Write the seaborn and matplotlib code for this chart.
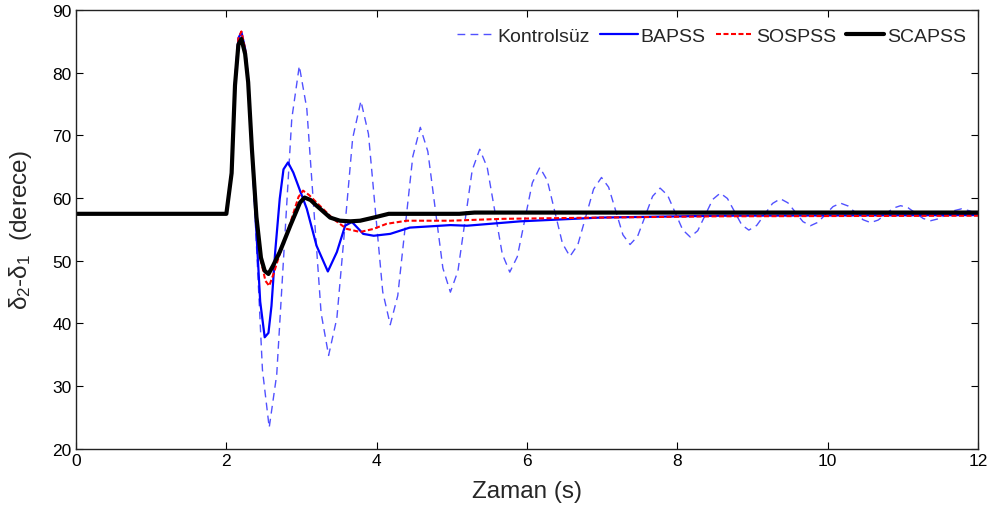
import numpy as np
import pandas as pd
import matplotlib
matplotlib.use("Agg")
import matplotlib.pyplot as plt
import seaborn as sns

# ---------------- data ----------------
t_kontrol = [0, 2.0, 2.07, 2.115, 2.16, 2.20, 2.25, 2.29, 2.34, 2.39, 2.48, 2.57,
             2.67, 2.77, 2.87, 2.97,
             3.07, 3.165, 3.26, 3.36,
             3.47, 3.575, 3.68, 3.79,
             3.89, 3.985, 4.08, 4.18,
             4.28, 4.38, 4.48, 4.58,
             4.68, 4.78, 4.88, 4.98,
             5.08, 5.175, 5.27, 5.37,
             5.47, 5.57, 5.67, 5.77,
             5.87, 5.97, 6.07, 6.17,
             6.27, 6.37, 6.47, 6.57,
             6.675, 6.78, 6.885, 6.99,
             7.085, 7.18, 7.275, 7.37,
             7.47, 7.57, 7.67, 7.77,
             7.87, 7.97, 8.07, 8.17,
             8.27, 8.37, 8.47, 8.57,
             8.665, 8.76, 8.855, 8.95,
             9.055, 9.16, 9.265, 9.37,
             9.47, 9.57, 9.67, 9.77,
             9.87, 9.97, 10.07, 10.17,
             10.27, 10.37, 10.47, 10.57,
             10.67, 10.77, 10.87, 10.97,
             11.07, 11.17, 11.27, 11.37,
             11.47, 11.575, 11.68, 11.78,
             11.88, 12.0]
y_kontrol = [57.5, 57.5, 64.2, 78.5, 85.5, 86.5, 83.8, 78.8, 67.5, 55.0, 32.6, 23.4,
             31.85, 52.25, 72.65, 81.1,
             74.3, 58.0, 41.7, 34.9,
             40.85, 55.2, 69.55, 75.5,
             70.25, 57.65, 45.05, 39.8,
             44.45, 55.55, 66.65, 71.3,
             67.45, 58.15, 48.85, 45.0,
             48.35, 56.4, 64.45, 67.8,
             64.9, 58.0, 51.1, 48.2,
             50.65, 56.55, 62.45, 64.9,
             62.8, 57.8, 52.8, 50.7,
             52.55, 57.0, 61.45, 63.3,
             61.75, 57.95, 54.15, 52.6,
             53.9, 57.1, 60.3, 61.6,
             60.45, 57.7, 54.95, 53.8,
             54.8, 57.3, 59.8, 60.8,
             59.95, 57.85, 55.75, 54.9,
             55.65, 57.4, 59.15, 59.9,
             59.25, 57.75, 56.25, 55.6,
             56.15, 57.4, 58.65, 59.2,
             58.75, 57.65, 56.55, 56.1,
             56.5, 57.45, 58.4, 58.8,
             58.45, 57.6, 56.75, 56.4,
             56.7, 57.35, 58.0, 58.3,
             58.0, 57.4]

t_bapss = [0, 2.0, 2.07, 2.115, 2.16, 2.20, 2.25, 2.29, 2.34, 2.40, 2.45, 2.51, 2.56,
           2.60, 2.65, 2.71, 2.76, 2.82, 2.89, 3.07, 3.20, 3.35, 3.47, 3.58, 3.67,
           3.75, 3.82, 3.96, 4.18, 4.44, 4.98, 5.2, 5.91, 6.97, 8.57, 12.0]
y_bapss = [57.5, 57.5, 64.2, 78.5, 85.5, 86.5, 83.8, 78.8, 67.5, 54.5, 43.5, 37.8, 38.5,
           42.8, 51.5, 59.9, 64.6, 65.7, 64.1, 58.3, 52.4, 48.3, 51.4, 55.6, 56.2,
           55.2, 54.3, 54.0, 54.3, 55.3, 55.7, 55.6, 56.3, 56.9, 57.2, 57.3]

t_sospss = [0, 2.0, 2.07, 2.115, 2.16, 2.20, 2.25, 2.29, 2.34, 2.40, 2.46, 2.52, 2.57,
            2.63, 2.72, 2.85, 2.96, 3.02, 3.10, 3.20, 3.42, 3.60, 3.78, 3.96, 4.13,
            4.40, 4.98, 5.68, 6.97, 8.5, 12.0]
y_sospss = [57.5, 57.5, 64.2, 78.5, 85.5, 86.6, 83.8, 78.8, 68.0, 57.0, 50.0, 46.8, 46.0,
            48.0, 51.5, 56.0, 60.2, 61.2, 60.5, 59.3, 56.7, 55.1, 54.6, 55.1, 55.9,
            56.4, 56.4, 56.7, 56.9, 57.1, 57.2]

t_scapss = [0, 2.0, 2.07, 2.115, 2.16, 2.20, 2.25, 2.29, 2.34, 2.40, 2.46, 2.51, 2.56,
            2.62, 2.71, 2.85, 2.98, 3.04, 3.12, 3.20, 3.38, 3.51, 3.65, 3.78, 3.96,
            4.16, 5.1, 5.3, 12.0]
y_scapss = [57.5, 57.5, 64.0, 78.0, 84.5, 85.4, 83.0, 78.5, 67.8, 57.0, 50.5, 48.4, 47.9,
            49.2, 51.4, 55.6, 59.3, 60.1, 59.7, 58.8, 56.9, 56.4, 56.3, 56.4, 56.9,
            57.5, 57.5, 57.7, 57.7]

series_names = ["Kontrolsüz", "BAPSS", "SOSPSS", "SCAPSS"]
x_ticks = [0, 2, 4, 6, 8, 10, 12]
y_ticks = [20, 30, 40, 50, 60, 70, 80, 90]

# ---------------- styling ----------------
sns.set_style("ticks")
plt.rcParams["font.family"] = ["Liberation Sans", "DejaVu Sans"]
plt.rcParams["mathtext.fontset"] = "custom"
plt.rcParams["mathtext.rm"] = "Liberation Sans"
plt.rcParams["mathtext.it"] = "Liberation Sans:italic"

fig = plt.figure(figsize=(9.91, 5.06), dpi=100)
ax = fig.add_axes([0.0767, 0.111, 0.9103, 0.867])

frames = {
    "Kontrolsüz": pd.DataFrame({"t": t_kontrol, "v": y_kontrol}),
    "BAPSS": pd.DataFrame({"t": t_bapss, "v": y_bapss}),
    "SOSPSS": pd.DataFrame({"t": t_sospss, "v": y_sospss}),
    "SCAPSS": pd.DataFrame({"t": t_scapss, "v": y_scapss}),
}
styles = {
    "Kontrolsüz": dict(color=(0.2, 0.2, 1.0), alpha=0.85, lw=1.0, linestyle=(0, (5.6, 3.8))),
    "BAPSS": dict(color="#0000ff", lw=1.6, linestyle="-"),
    "SOSPSS": dict(color="#ff0000", lw=1.5, linestyle=(0, (2.4, 1.2))),
    "SCAPSS": dict(color="black", lw=3.0, linestyle="-"),
}
for name in series_names:
    sns.lineplot(data=frames[name], x="t", y="v", ax=ax, estimator=None, sort=False,
                 label=name, **styles[name])

ax.set_xlim(0, 12)
ax.set_ylim(20, 90)
ax.set_xticks(x_ticks)
ax.set_yticks(y_ticks)
ax.tick_params(direction="in", top=True, right=True, length=5, width=0.8,
               labelsize=12.5, pad=3, colors="black")
for s in ax.spines.values():
    s.set_visible(True)
    s.set_linewidth(1.0)
    s.set_color("#222222")

ax.set_xlabel("Zaman (s)", fontsize=17.5)
ax.xaxis.set_label_coords(0.5, -0.072)
ax.set_ylabel(r"δ$_2$-δ$_1$  (derece)", fontsize=17.5)
ax.yaxis.set_label_coords(-0.047, 0.5)

leg = ax.legend(loc="upper right", ncol=4, frameon=False, fontsize=14,
                handlelength=1.95, handletextpad=0.15, columnspacing=0.5,
                bbox_to_anchor=(1.006, 1.0), borderaxespad=0.5)

fig.savefig("out.png", dpi=100)
